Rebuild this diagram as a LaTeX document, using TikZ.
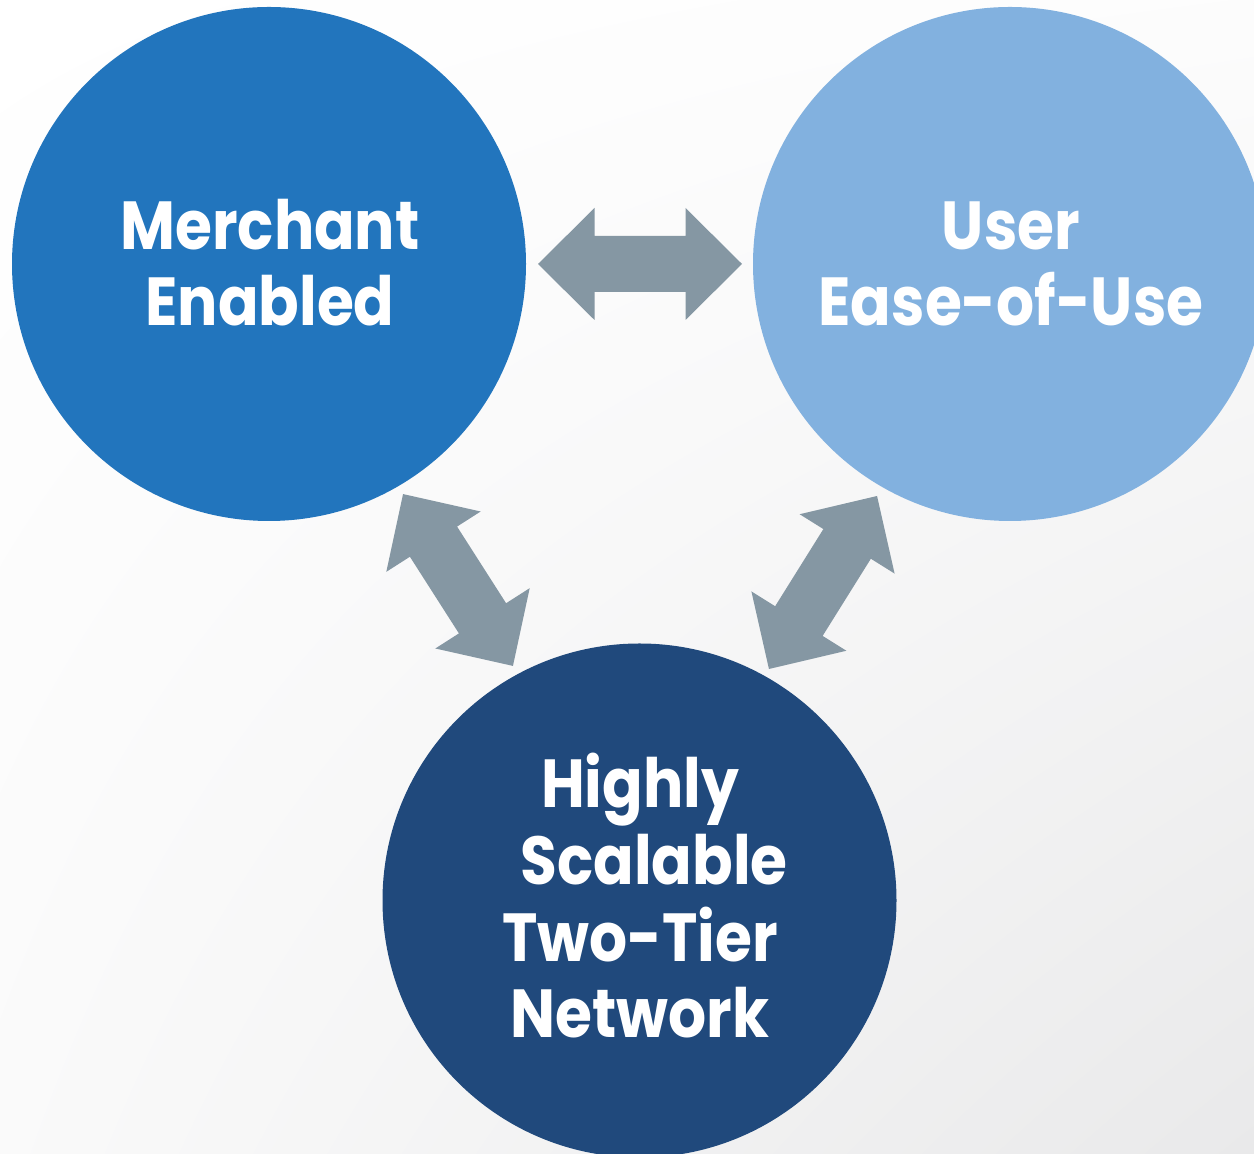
\documentclass[tikz,border=0pt]{standalone}
\usepackage{fontspec}
\usetikzlibrary{shadings}
\setmainfont{Poppins}[BoldFeatures={FakeStretch=0.88}]
\definecolor{merchblue}{HTML}{2275BD}
\definecolor{userblue}{HTML}{82B1DF}
\definecolor{netblue}{HTML}{20497C}
\definecolor{arrgray}{HTML}{8597A3}
\definecolor{bgcorner}{HTML}{E9E9EA}
\tikzset{
  bubble/.style={circle, minimum size=514pt, inner sep=0pt},
  bubbletext/.style={text=white, font=\fontsize{68}{76.7}\selectfont\bfseries, align=center, anchor=base, inner sep=0pt},
  dblarrow/.style={fill=arrgray}
}
\newcommand\mydblarrow[2]{%
  \begin{scope}[shift={(#1)}, rotate=#2]
    \fill[dblarrow] (-102,0) -- (-45.5,56) -- (-45.5,28) -- (45.5,28) -- (45.5,56) -- (102,0)
      -- (45.5,-56) -- (45.5,-28) -- (-45.5,-28) -- (-45.5,-56) -- cycle;
  \end{scope}}
\begin{document}
\begin{tikzpicture}[x=1pt, y=1pt]
  \useasboundingbox (0,0) rectangle (1254,1154);
  \clip (0,0) rectangle (1254,1154);
  \shade[upper left=white, upper right=white!98!gray, lower left=white!96!gray, lower right=bgcorner]
    (0,0) rectangle (1254,1154);
  % circles
  \node[bubble, fill=merchblue] (merch) at (269,890) {};
  \node[bubble, fill=userblue] (user) at (1010,890) {};
  \node[bubble, fill=netblue] (net) at (639.5,253.5) {};
  % labels (anchor base = baseline of last line)
  \node[bubbletext] (merchlbl) at (270,828) {Merchant\\Enabled};
  \node[bubbletext] (userlbl) at (1011,828) {User\\Ease-of-Use};
  \node[bubbletext] (netlbl) at (640,116) {Highly\\\hspace*{28pt}Scalable\\Two-Tier\\Network};
  % arrows
  \coordinate (a1) at (640,890);
  \coordinate (a2) at (458,574);
  \coordinate (a3) at (823,571.5);
  \mydblarrow{a1}{0}
  \mydblarrow{a2}{-57.4}
  \mydblarrow{a3}{58}
\end{tikzpicture}
\end{document}
